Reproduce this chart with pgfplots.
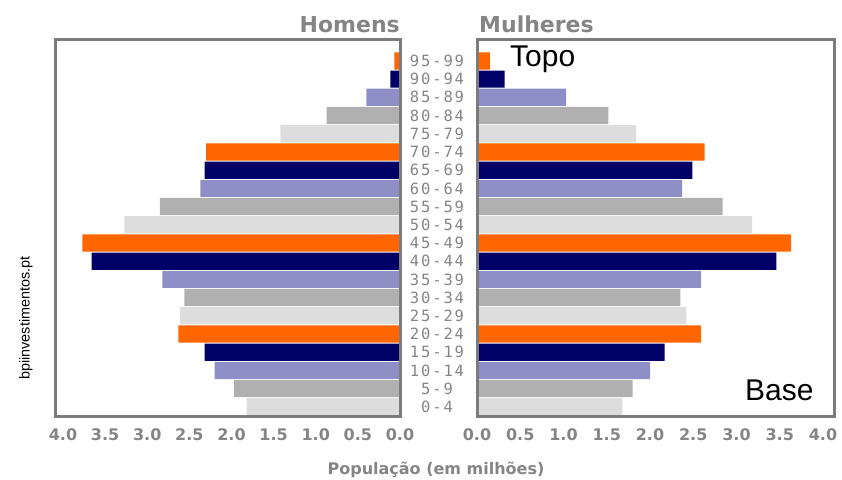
\documentclass[border=0pt]{standalone}
\usepackage{fontspec}
\setmainfont{DejaVu Sans}
\newfontfamily\arialfont{Liberation Sans}
\newfontfamily\agefont[LetterSpace=12]{DejaVu Sans Mono}
\usepackage{pgfplots}
\pgfplotsset{compat=1.18}
\definecolor{cLight}{HTML}{DDDDDD}
\definecolor{cGray}{HTML}{B0B0B0}
\definecolor{cLav}{HTML}{8F8FC7}
\definecolor{cNavy}{HTML}{000066}
\definecolor{cOrange}{HTML}{FF6600}
\definecolor{frameGray}{HTML}{7C7C7C}
\definecolor{txtGray}{HTML}{858585}
\begin{document}
\begin{tikzpicture}[x=1pt,y=1pt]
\useasboundingbox (0,0) rectangle (842,479);
\pgfplotsset{
  pyr/.style={
    scale only axis,
    height=376pt,
    xbar, bar width=17.2pt, bar shift=0pt,
    ymin=-0.505, ymax=20.15,
    xmin=0,
    axis line style={draw=frameGray, line width=3pt},
    major tick length=0pt,
    xtick={0,0.5,...,4},
    xticklabel style={font=\fontsize{16}{16}\selectfont\bfseries, text=txtGray, yshift=-9pt,
      /pgf/number format/.cd, fixed, fixed zerofill, precision=1, assume math mode=true},
    every axis plot/.append style={draw=none},
    clip=false,
  }
}
% Homens (left, reversed)
\begin{axis}[pyr, at={(56pt,63pt)}, anchor=south west, width=344pt,
  x dir=reverse, xmax=4.083, ytick=\empty, axis on top]
\addplot[fill=cLight] coordinates {(1.82,0) (2.61,5) (3.27,10) (1.42,15)};
\addplot[fill=cGray] coordinates {(1.97,1) (2.56,6) (2.85,11) (0.87,16)};
\addplot[fill=cLav] coordinates {(2.20,2) (2.82,7) (2.37,12) (0.40,17)};
\addplot[fill=cNavy] coordinates {(2.32,3) (3.66,8) (2.32,13) (0.115,18)};
\addplot[fill=cOrange] coordinates {(2.63,4) (3.77,9) (2.30,14) (0.068,19)};
\end{axis}
% Mulheres (right)
\begin{axis}[pyr, at={(477pt,63pt)}, anchor=south west, width=357.5pt,
  xmax=4.133, axis on top,
  ytick={0,...,19},
  yticklabels={0-4,5-9,10-14,15-19,20-24,25-29,30-34,35-39,40-44,45-49,
    50-54,55-59,60-64,65-69,70-74,75-79,80-84,85-89,90-94,95-99},
  yticklabel style={anchor=center, xshift=-40pt, font=\agefont\fontsize{15.5}{15.5}\selectfont, text=txtGray}]
\addplot[fill=cLight] coordinates {(1.68,0) (2.42,5) (3.18,10) (1.84,15)};
\addplot[fill=cGray] coordinates {(1.80,1) (2.35,6) (2.84,11) (1.52,16)};
\addplot[fill=cLav] coordinates {(2.00,2) (2.59,7) (2.37,12) (1.03,17)};
\addplot[fill=cNavy] coordinates {(2.17,3) (3.46,8) (2.49,13) (0.32,18)};
\addplot[fill=cOrange] coordinates {(2.59,4) (3.63,9) (2.63,14) (0.15,19)};
\end{axis}
\node[anchor=base east, inner sep=0pt, text=txtGray, font=\fontsize{22}{22}\selectfont\bfseries] at (400,446) {Homens};
\node[anchor=base west, inner sep=0pt, text=txtGray, font=\fontsize{22}{22}\selectfont\bfseries] at (479,446) {Mulheres};
\node[anchor=base, inner sep=0pt, text=txtGray, font=\fontsize{16}{16}\selectfont\bfseries] at (436,5) {População (em milhões)};
\node[anchor=base west, inner sep=0pt, font=\arialfont\fontsize{30}{30}\selectfont] at (510,412) {Topo};
\node[anchor=base west, inner sep=0pt, font=\arialfont\fontsize{30}{30}\selectfont] at (745,79) {Base};
\node[rotate=90, inner sep=0pt, font=\arialfont\fontsize{14.4}{14.4}\selectfont] at (26,161) {bpiinvestimentos.pt};
\end{tikzpicture}
\end{document}
